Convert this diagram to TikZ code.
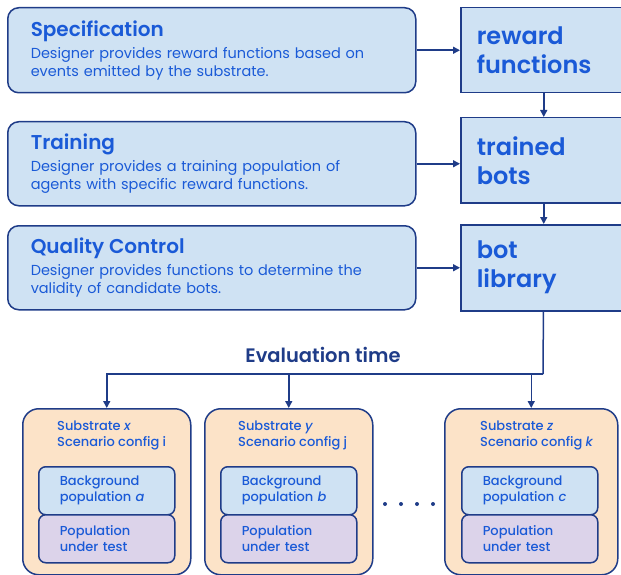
\documentclass[tikz,border=0pt]{standalone}
\usepackage{fontspec}
\setmainfont{Poppins}[BoldFont={Poppins SemiBold}]
\newfontfamily\medfont{Poppins Medium}
\usetikzlibrary{positioning,arrows.meta}
\definecolor{navy}{HTML}{1F3C88}
\definecolor{txtblue}{HTML}{1A5AD7}
\definecolor{boxblue}{HTML}{CFE2F3}
\definecolor{peach}{HTML}{FCE3C8}
\definecolor{lilac}{HTML}{DCD3EA}
\begin{document}
\begin{tikzpicture}[
  x=1pt, y=-1pt,
  stage/.style={draw=navy, line width=1.5pt, fill=boxblue, rounded corners=11pt, anchor=north west,
    minimum width=408pt, minimum height=85pt, text width=362pt, inner xsep=23pt, align=left,
    text=txtblue, font=\fontsize{14.5}{18}\selectfont},
  store/.style={draw=navy, line width=1.5pt, fill=boxblue, anchor=north west,
    minimum width=166pt, minimum height=85pt, text width=134pt, inner xsep=16pt, align=left,
    text=txtblue, font=\fontsize{24}{29}\selectfont\bfseries},
  env/.style={draw=navy, line width=1.5pt, fill=peach, rounded corners=16pt, anchor=north west,
    minimum width=168pt, minimum height=166pt},
  pop/.style={draw=navy, line width=1.5pt, rounded corners=7pt, anchor=north west,
    minimum width=136pt, minimum height=48pt, text width=94pt, inner xsep=21pt, align=left,
    text=txtblue, font=\fontsize{13}{16}\medfont},
  head/.style={anchor=north west, align=left, inner sep=0pt, text=txtblue,
    font=\fontsize{13}{16}\medfont},
  arr/.style={-{Triangle[length=7pt,width=7pt]}, draw=navy, line width=1.5pt}
]
\clip (0,0) rectangle (621,575);

% design stages
\node[stage] (spec) at (7,7) {{\fontsize{20}{22}\selectfont\bfseries Specification}\\[4pt]
  Designer provides reward functions based on\\ events emitted by the substrate.};
\node[stage, minimum height=84pt] (train) at (7,121) {{\fontsize{20}{22}\selectfont\bfseries Training}\\[4pt]
  Designer provides a training population of\\ agents with specific reward functions.};
\node[stage, minimum height=84pt] (qc) at (7,225) {{\fontsize{20}{22}\selectfont\bfseries Quality Control}\\[4pt]
  Designer provides functions to determine the\\ validity of candidate bots.};

% outputs
\node[store] (reward) at (460,7) {reward\\functions};
\node[store] (bots) at (460,117) {trained\\bots};
\node[store, minimum height=86pt] (lib) at (460,224) {bot\\library};

\draw[arr] (spec) -- (reward);
\draw[arr] (train.east) -- (train.east -| bots.west);
\draw[arr] (qc) -- (lib);
\draw[arr] (reward) -- (bots);
\draw[arr] (bots) -- (lib);

% evaluation
\node[text=navy, font=\fontsize{19.5}{22}\selectfont\bfseries] (evaltime) at (323,355) {Evaluation time};
\coordinate (bus) at (543,374);

\node[env] (sub1) at (22,408) {};
\node[env] (sub2) at (204,408) {};
\node[env, minimum width=173pt] (sub3) at (444,408) {};

\node[head] (hdr1) at (57,421) {Substrate \textit{x}\\Scenario config i};
\node[head] (hdr2) at (238,421) {Substrate \textit{y}\\Scenario config j};
\node[head] (hdr3) at (480,421) {Substrate \textit{z}\\Scenario config \textit{k}};

\node[pop, fill=boxblue] (bg1) at (38,466) {Background\\population \textit{a}};
\node[pop, fill=lilac] (put1) at (38,514) {Population\\under test};
\node[pop, fill=boxblue] (bg2) at (220,466) {Background\\population \textit{b}};
\node[pop, fill=lilac] (put2) at (220,514) {Population\\under test};
\node[pop, fill=boxblue] (bg3) at (461,466) {Background\\population \textit{c}};
\node[pop, fill=lilac] (put3) at (461,514) {Population\\under test};

\foreach \dx in {385,401,417,433}
  \fill[navy] (\dx,504) circle (2pt);

\draw[line width=1.5pt, navy] (lib) -- (bus);
\draw[arr] (bus) -| (sub1);
\draw[arr] (bus) -| (sub2);
\draw[arr] (bus) -| (sub3);
\end{tikzpicture}
\end{document}
